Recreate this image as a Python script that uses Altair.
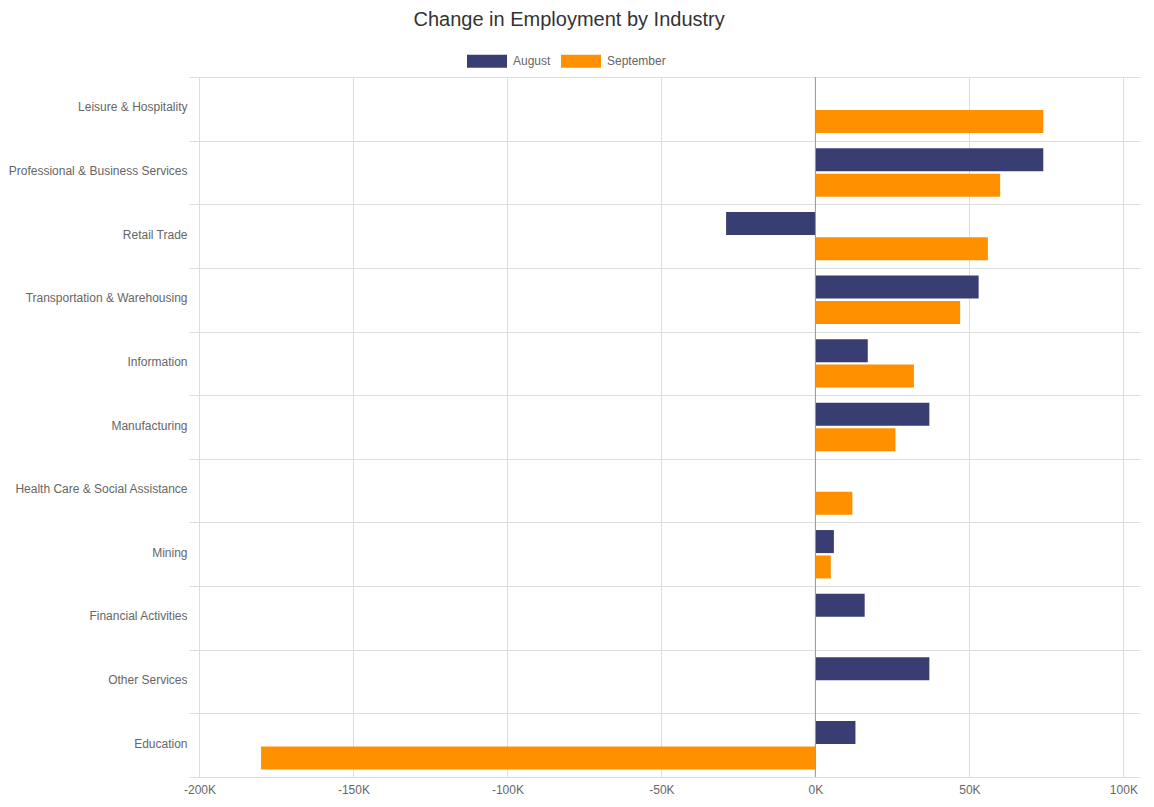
import altair as alt
import pandas as pd

industries = [
    "Leisure & Hospitality",
    "Professional & Business Services",
    "Retail Trade",
    "Transportation & Warehousing",
    "Information",
    "Manufacturing",
    "Health Care & Social Assistance",
    "Mining",
    "Financial Activities",
    "Other Services",
    "Education",
]
august = [None, 74000, -29000, 53000, 17000, 37000, None, 6000, 16000, 37000, 13000]
september = [74000, 60000, 56000, 47000, 32000, 26000, 12000, 5000, None, None, -180000]
months = ["August", "September"]
colors = ["#383d72", "#ff9100"]
x_ticks = [-200000, -150000, -100000, -50000, 0, 50000, 100000]

rows = []
for ind, a, s in zip(industries, august, september):
    if a is not None:
        rows.append({"industry": ind, "month": "August", "value": a})
    if s is not None:
        rows.append({"industry": ind, "month": "September", "value": s})
df = pd.DataFrame(rows)

FONT = "Liberation Sans"

bars = alt.Chart(df).mark_bar().encode(
    y=alt.Y(
        "industry:N",
        sort=industries,
        scale=alt.Scale(domain=industries, paddingInner=0, paddingOuter=0),
        axis=alt.Axis(
            title=None, domain=False, ticks=False, tickBand="extent", grid=True,
            gridColor="#dddddd", labelColor="#666666", labelFontSize=12,
            labelFont=FONT, labelPadding=2, labelOffset=-2,
        ),
    ),
    yOffset=alt.YOffset(
        "month:N", sort=months,
        scale=alt.Scale(domain=months, paddingInner=0.094, paddingOuter=0.3),
    ),
    x=alt.X(
        "value:Q",
        scale=alt.Scale(domain=[-203400, 105400], nice=False, zero=False),
        axis=alt.Axis(
            title=None, values=x_ticks, labelExpr="datum.value/1000 + 'K'",
            domain=False, ticks=False, grid=True, gridColor="#dddddd",
            labelColor="#666666", labelFontSize=12, labelFont=FONT, labelPadding=7,
        ),
    ),
    color=alt.Color(
        "month:N",
        scale=alt.Scale(domain=months, range=colors),
        legend=alt.Legend(
            title=None, orient="none", direction="horizontal",
            legendX=278, legendY=-36,
            symbolType="M-1,-0.325L1,-0.325L1,0.325L-1,0.325Z",
            symbolSize=1600, symbolStrokeWidth=0, symbolOpacity=1,
            labelFontSize=12, labelFont=FONT, labelColor="#666666",
            columnPadding=10, labelOffset=6,
        ),
    ),
)

zero = alt.Chart().mark_rule(color="#999999", strokeWidth=1).encode(x=alt.datum(0))

chart = alt.layer(bars, zero).properties(
    width=951,
    height=700,
    padding={"left": 0, "top": 2, "right": 5, "bottom": 5},
    title=alt.TitleParams(
        "Change in Employment by Industry",
        anchor="middle", frame="bounds", fontSize=20, font=FONT,
        fontWeight="normal", color="#333333", offset=11, dx=-5,
    ),
).configure_view(stroke=None)

chart.save("out.html", embed_options={"renderer": "svg", "actions": False})
